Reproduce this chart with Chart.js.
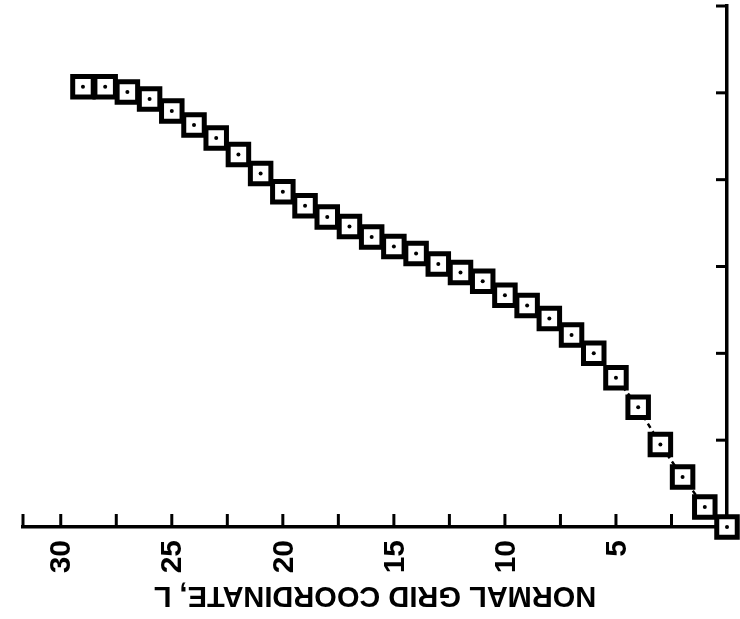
<!DOCTYPE html>
<html>
<head>
<meta charset="utf-8">
<script src="https://cdn.jsdelivr.net/npm/chart.js@4"></script>
<style>
  html, body { margin: 0; padding: 0; background: #fff; }
  #wrap { width: 740px; height: 619px; }
</style>
</head>
<body>
<div id="wrap"><canvas id="gridChart" width="740" height="619"></canvas></div>
<script>
// Grid coordinate L (runs right to left) and the value plotted at each grid line
const gridL = [0, 1, 2, 3, 4, 5, 6, 7, 8, 9, 10, 11, 12, 13, 14, 15, 16, 17, 18, 19,
               20, 21, 22, 23, 24, 25, 26, 27, 28, 29];
const values = [0, 0.23, 0.575, 0.95, 1.38, 1.72, 2.0, 2.21, 2.40, 2.55,
                2.67, 2.83, 2.93, 3.03, 3.15, 3.23, 3.34, 3.46, 3.57, 3.70,
                3.86, 4.07, 4.29, 4.48, 4.63, 4.79, 4.93, 5.01, 5.07, 5.07];

// Tick marks and labels
const xTickValues = [2.5, 5, 7.5, 10, 12.5, 15, 17.5, 20, 22.5, 25, 27.5, 30];
const xLabelValues = [5, 10, 15, 20, 25, 30];
const xTickLabels = ['5', '10', '15', '20', '25', '30'];
const yTickValues = [1, 2, 3, 4, 5, 6];
const axisTitle = 'NORMAL GRID COORDINATE, L';

const points = gridL.map((l, i) => ({ x: l, y: values[i] }));

// Inward tick stubs, rotated tick labels and the upside-down axis title
const rotatedAxisPlugin = {
    id: 'rotatedAxis',
    afterDraw(chart) {
        const ctx = chart.ctx;
        const xs = chart.scales.x;
        const ys = chart.scales.y;
        const area = chart.chartArea;
        ctx.save();
        ctx.strokeStyle = '#000';
        ctx.fillStyle = '#000';
        ctx.lineWidth = 3;

        // x ticks point up into the plot, plus a stub at the left end
        xTickValues.concat([xs.max]).forEach(v => {
            const px = xs.getPixelForValue(v);
            ctx.beginPath();
            ctx.moveTo(px, area.bottom);
            ctx.lineTo(px, area.bottom - 13);
            ctx.stroke();
        });
        // y ticks point left from the right-hand axis
        yTickValues.forEach(v => {
            const py = ys.getPixelForValue(v);
            ctx.beginPath();
            ctx.moveTo(area.right, py);
            ctx.lineTo(area.right - 11, py);
            ctx.stroke();
        });

        // tick labels, turned a quarter turn
        ctx.font = 'bold 30px "Liberation Sans", Arial, sans-serif';
        ctx.textAlign = 'right';
        ctx.textBaseline = 'alphabetic';
        xLabelValues.forEach((v, i) => {
            const px = xs.getPixelForValue(v);
            ctx.save();
            ctx.translate(px - 1, area.bottom + 13);
            ctx.rotate(-Math.PI / 2);
            ctx.fillText(xTickLabels[i], 0, 10.7);
            ctx.restore();
        });

        // axis title, upside down
        ctx.font = 'bold 29px "Liberation Sans", Arial, sans-serif';
        ctx.textAlign = 'center';
        ctx.translate((area.left + area.right) / 2, area.bottom + 60);
        ctx.rotate(Math.PI);
        ctx.fillText(axisTitle, 0, 0);
        ctx.restore();
    }
};

new Chart(document.getElementById('gridChart'), {
    type: 'line',
    data: {
        datasets: [{
            // centre dots of the markers
            data: points,
            showLine: false,
            pointStyle: 'circle',
            pointRadius: 2,
            pointBorderWidth: 0,
            pointBackgroundColor: '#000',
            clip: false,
            order: 0
        }, {
            data: points,
            borderColor: '#000',
            borderWidth: 2.5,
            borderDash: [5, 4],
            tension: 0,
            pointStyle: 'rect',
            pointRadius: 14.5,
            pointBorderWidth: 5,
            pointBorderColor: '#000',
            pointBackgroundColor: '#fff',
            clip: false,
            order: 1
        }]
    },
    options: {
        responsive: false,
        animation: false,
        layout: { autoPadding: false, padding: { left: 23, top: 6, right: 0, bottom: 0 } },
        plugins: {
            legend: { display: false },
            tooltip: { enabled: false }
        },
        scales: {
            x: {
                type: 'linear',
                position: 'bottom',
                min: 0,
                max: 31.7,
                reverse: true,
                ticks: { display: false },
                grid: { drawOnChartArea: false, drawTicks: false },
                border: { display: true, color: '#000', width: 3.5 },
                afterFit(scale) { scale.height = 92; }
            },
            y: {
                type: 'linear',
                position: 'right',
                min: 0,
                max: 6,
                ticks: { display: false },
                grid: { drawOnChartArea: false, drawTicks: false },
                border: { display: true, color: '#000', width: 3.5 },
                afterFit(scale) { scale.width = 13; }
            }
        }
    },
    plugins: [rotatedAxisPlugin]
});
</script>
</body>
</html>
